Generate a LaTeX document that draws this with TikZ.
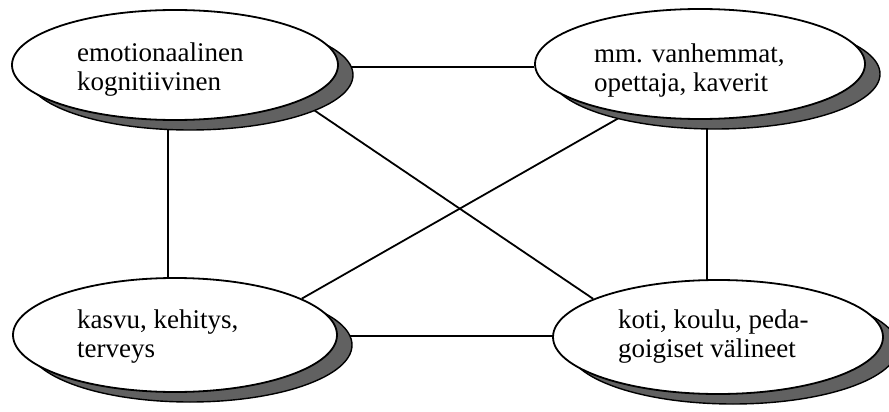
\documentclass[tikz,border=0pt]{standalone}
\usepackage{fontspec}
\setmainfont{Liberation Serif}
\usetikzlibrary{shapes.geometric,shadows,backgrounds}

\begin{document}
\begin{tikzpicture}[x=1pt,y=-1pt,
  bubble/.style={ellipse, draw=black, line width=1.8pt, fill=white, inner sep=0pt,
    drop shadow={shadow xshift=15pt, shadow yshift=-10pt, fill=black!62,
                 draw=black, line width=1.4pt, opacity=1}},
  bubbletext/.style={anchor=west, align=left, inner sep=0pt,
    font=\fontsize{27}{29}\selectfont},
  link/.style={line width=1.8pt}]

\useasboundingbox (0,0) rectangle (889,412);

% the four ellipses
\node[bubble, minimum width=326pt, minimum height=110pt] (TL) at (175,65) {};
\node[bubble, minimum width=330pt, minimum height=110pt] (TR) at (700,64) {};
\node[bubble, minimum width=324pt, minimum height=114pt] (BL) at (175,335) {};
\node[bubble, minimum width=330pt, minimum height=114pt] (BR) at (718,337) {};

% their texts
\node[bubbletext] (tTL) at (77,70)  {emotionaalinen\\kognitiivinen};
\node[bubbletext] (tTR) at (594,71) {mm. vanhemmat,\\opettaja, kaverit};
\node[bubbletext] (tBL) at (77,337) {kasvu, kehitys,\\terveys};
\node[bubbletext] (tBR) at (618,337) {koti, koulu, peda-\\goigiset välineet};

% connecting lines, behind the ellipses
\begin{pgfonlayer}{background}
\draw[link] ([yshift=-2pt]TL.east) -- ([yshift=-3pt]TR.west);
\draw[link] ([yshift=-1pt]BL.east) -- ([yshift=1pt]BR.west);
\draw[link] ([xshift=-7pt]TL.south) -- ([xshift=-7pt]BL.north);
\draw[link] ([xshift=7pt]TR.south) -- ([xshift=-11pt]BR.north);
\draw[link] (TL.-16.7) -- (BR.163);
\draw[link] (TR.214.8) -- (BL.16);
\end{pgfonlayer}
\end{tikzpicture}
\end{document}
